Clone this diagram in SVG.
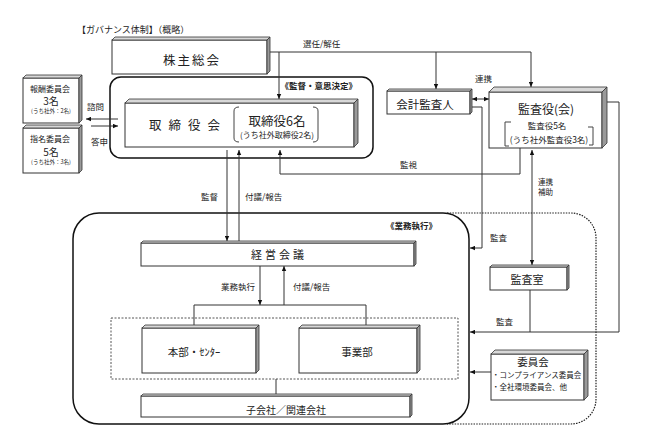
<svg xmlns="http://www.w3.org/2000/svg" width="648" height="437" viewBox="0 0 648 437">
<defs>
<style>
text{font-family:"Noto Sans CJK JP","Noto Sans",sans-serif;fill:#222}
.c{text-anchor:middle;dominant-baseline:central}
.front{fill:#fff;stroke:#333;stroke-width:1}
.top{fill:#d8d8d8;stroke:#333;stroke-width:0.8}
.side{fill:#9a9a9a;stroke:#333;stroke-width:0.8}
.ln{fill:none;stroke:#333;stroke-width:1}
.lbl{font-size:8.5px}
.br{fill:none;stroke:#444;stroke-width:1}
</style>
<marker id="ah" viewBox="0 0 8 8" refX="8" refY="4" markerWidth="5" markerHeight="5" orient="auto-start-reverse" markerUnits="userSpaceOnUse">
<path d="M0,0.5 L8,4 L0,7.5 Z" fill="#111"/>
</marker>
</defs>
<rect width="648" height="437" fill="#fff"/>

<text x="77" y="33" style="font-size:9px">【ガバナンス体制】（概略）</text>

<!-- frames -->
<g id="frame-kantoku">
<rect x="110" y="77" width="263" height="81" rx="11" fill="none" stroke="#111" stroke-width="1.5"/>
<text x="357" y="89" style="font-size:8.5px;text-anchor:end;font-weight:bold">《監督・意思決定》</text>
</g>
<g id="frame-gyomu">
<path d="M447,213 H571 A25,25 0 0 1 596,238 V399 A25,25 0 0 1 571,424 H447" fill="none" stroke="#222" stroke-width="1.2" stroke-dasharray="1.5,1.2"/>
<rect x="73" y="213" width="396" height="211" rx="26" fill="none" stroke="#111" stroke-width="1.5"/>
<text x="437" y="229" style="font-size:8.5px;text-anchor:end;font-weight:bold">《業務執行》</text>
</g>
<rect id="dept-group" x="111" y="318" width="347" height="61" fill="none" stroke="#555" stroke-width="1" stroke-dasharray="2,1.5"/>

<!-- connectors -->
<g id="connectors">
<path class="ln" d="M270,52 H531 V87" marker-end="url(#ah)"/>
<path class="ln" d="M436,52 V89" marker-end="url(#ah)"/>
<path class="ln" d="M279,52 V99" marker-end="url(#ah)"/>
<path class="ln" d="M118,119 H86" marker-end="url(#ah)"/>
<path class="ln" d="M91,126 H118" marker-end="url(#ah)"/>
<path class="ln" d="M227,150 V241" marker-end="url(#ah)"/>
<path class="ln" d="M239,241 V150" marker-end="url(#ah)"/>
<path class="ln" d="M520,148 V174 H280 V150" marker-end="url(#ah)"/>
<path class="ln" d="M472,99 H489" marker-start="url(#ah)" marker-end="url(#ah)"/>
<path class="ln" d="M472,107 H482 V248 H470" marker-end="url(#ah)"/>
<path class="ln" d="M607,102 H619 V332 H470" marker-end="url(#ah)"/>
<path class="ln" d="M532,150 V265" marker-start="url(#ah)" marker-end="url(#ah)"/>
<path class="ln" d="M530,290 V332"/>
<path class="ln" d="M491,372 H470" marker-end="url(#ah)"/>
<path class="ln" d="M260,266 V305" marker-end="url(#ah)"/>
<path class="ln" d="M194,325 V305 H366 V325"/>
<path class="ln" d="M284,305 V266" marker-end="url(#ah)"/>
<path class="ln" d="M276,379 V394"/>
<text class="lbl" x="303" y="47">選任/解任</text>
<text class="lbl" x="475" y="82">連携</text>
<text class="lbl" x="87" y="110">諮問</text>
<text class="lbl" x="91" y="145">答申</text>
<text class="lbl" x="201" y="200">監督</text>
<text class="lbl" x="245" y="200">付議/報告</text>
<text class="lbl" x="400" y="168">監視</text>
<text x="538" y="185" style="font-size:7.5px">連携</text>
<text x="538" y="195" style="font-size:7.5px">補助</text>
<text class="lbl" x="490" y="241">監査</text>
<text class="lbl" x="496" y="325">監査</text>
<text class="lbl" x="221" y="290">業務執行</text>
<text class="lbl" x="293" y="290">付議/報告</text>
</g>

<!-- nodes -->
<g id="kabunushi">
<rect class="front" x="112" y="40" width="155" height="34"/>
<path class="top" d="M112,40 L115,37 L270,37 L267,40 Z"/>
<path class="side" d="M267,40 L270,37 L270,71 L267,74 Z"/>
<text class="c" x="192" y="59" style="font-size:12.5px;letter-spacing:2px">株主総会</text>
</g>

<g id="torishimariyakukai">
<rect class="front" x="125" y="103" width="229" height="44"/>
<path class="top" d="M125,103 L129,99 L358,99 L354,103 Z"/>
<path class="side" d="M354,103 L358,99 L358,143 L354,147 Z"/>
<text class="c" x="188" y="124" style="font-size:12.5px;letter-spacing:7px">取締役会</text>
<path class="br" d="M239,107 Q234,107 234,111 V138 Q234,142 239,142"/>
<path class="br" d="M313,107 Q318,107 318,111 V138 Q318,142 313,142"/>
<text class="c" x="277" y="120" style="font-size:12.5px">取締役6名</text>
<text class="c" x="277" y="134" style="font-size:8px">(うち社外取締役2名)</text>
</g>

<g id="hoshu">
<rect class="front" x="23" y="78" width="56" height="45"/>
<path class="top" d="M23,78 L26,75 L82,75 L79,78 Z"/>
<path class="side" d="M79,78 L82,75 L82,120 L79,123 Z"/>
<text class="c" x="50" y="88" style="font-size:8px">報酬委員会</text>
<text class="c" x="51" y="100" style="font-size:10px">3名</text>
<text class="c" x="51" y="111" style="font-size:5.5px">(うち社外：2名)</text>
</g>

<g id="shimei">
<rect class="front" x="23" y="128" width="56" height="45"/>
<path class="top" d="M23,128 L26,125 L82,125 L79,128 Z"/>
<path class="side" d="M79,128 L82,125 L82,170 L79,173 Z"/>
<text class="c" x="50" y="138" style="font-size:8px">指名委員会</text>
<text class="c" x="51" y="151" style="font-size:10px">5名</text>
<text class="c" x="51" y="162" style="font-size:5.5px">(うち社外：3名)</text>
</g>

<g id="kaikei">
<rect class="front" x="387" y="91" width="83" height="23"/>
<path class="top" d="M387,91 L389,89 L472,89 L470,91 Z"/>
<path class="side" d="M470,91 L472,89 L472,112 L470,114 Z"/>
<text class="c" x="425" y="104" style="font-size:11.5px">会計監査人</text>
</g>

<g id="kansayaku">
<rect class="front" x="489" y="92" width="113" height="56"/>
<path class="top" d="M489,92 L494,87 L607,87 L602,92 Z"/>
<path class="side" d="M602,92 L607,87 L607,143 L602,148 Z"/>
<text class="c" x="546" y="108" style="font-size:12px">監査役(会)</text>
<path class="br" d="M511,122 H505 V146 H509"/>
<path class="br" d="M588,127 H593 V145 H589"/>
<text class="c" x="547" y="125" style="font-size:8.5px">監査役5名</text>
<text class="c" x="549" y="139" style="font-size:8.5px">(うち社外監査役3名)</text>
</g>

<g id="keiei">
<rect class="front" x="141" y="243" width="273" height="23"/>
<path class="top" d="M141,243 L143,241 L416,241 L414,243 Z"/>
<path class="side" d="M414,243 L416,241 L416,264 L414,266 Z"/>
<text class="c" x="279" y="254" style="font-size:11px;letter-spacing:3px">経営会議</text>
</g>

<g id="kansashitsu">
<rect class="front" x="490" y="267" width="77" height="23"/>
<path class="top" d="M490,267 L492,265 L569,265 L567,267 Z"/>
<path class="side" d="M567,267 L569,265 L569,288 L567,290 Z"/>
<text class="c" x="527" y="279" style="font-size:11px">監査室</text>
</g>

<g id="honbu">
<rect class="front" x="142" y="328" width="114" height="45"/>
<path class="top" d="M142,328 L145,325 L259,325 L256,328 Z"/>
<path class="side" d="M256,328 L259,325 L259,370 L256,373 Z"/>
<text class="c" x="194" y="351" style="font-size:10.5px">本部・ｾﾝﾀｰ</text>
</g>

<g id="jigyobu">
<rect class="front" x="299" y="328" width="118" height="45"/>
<path class="top" d="M299,328 L302,325 L420,325 L417,328 Z"/>
<path class="side" d="M417,328 L420,325 L420,370 L417,373 Z"/>
<text class="c" x="357" y="351" style="font-size:10.5px">事業部</text>
</g>

<g id="kogaisha">
<rect class="front" x="141" y="396" width="269" height="21"/>
<path class="top" d="M141,396 L143,394 L412,394 L410,396 Z"/>
<path class="side" d="M410,396 L412,394 L412,415 L410,417 Z"/>
<text class="c" x="286" y="409" style="font-size:10px">子会社／関連会社</text>
</g>

<g id="iinkai">
<rect class="front" x="491" y="354" width="93" height="46"/>
<path class="top" d="M491,354 L495,350 L588,350 L584,354 Z"/>
<path class="side" d="M584,354 L588,350 L588,396 L584,400 Z"/>
<text class="c" x="533" y="361" style="font-size:10.5px">委員会</text>
<text x="492" y="374" style="font-size:7.5px;dominant-baseline:central">・コンプライアンス委員会</text>
<text x="492" y="386" style="font-size:7.5px;dominant-baseline:central">・全社環境委員会、他</text>
</g>
</svg>
